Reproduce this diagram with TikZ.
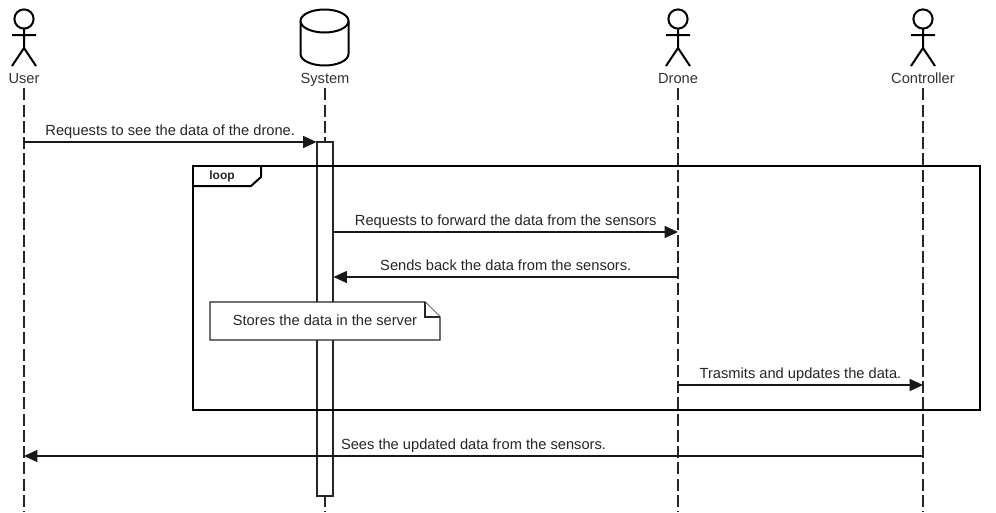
\documentclass[tikz,border=0pt]{standalone}
\usepackage{fontspec}
\setmainfont{Liberation Sans}
\usetikzlibrary{arrows.meta}

\tikzset{
	lifeline/.style = {draw=black!85, line width=0.9pt, dash pattern=on 9pt off 3.2pt},
	stickman/.style = {draw=black, line width=1.5pt},
	label/.style = {inner sep=0pt, minimum height=12pt, text height=8pt, text depth=2.2pt, font=\fontsize{11}{12}\selectfont, text=black!80},
	msg/.style = {draw=black!90, line width=0.85pt, -{Triangle[length=10pt,width=9pt]}},
	msgtext/.style = {midway, above, inner sep=0pt, yshift=2.6pt, text depth=2.2pt, font=\fontsize{11}{12}\selectfont, text=black!85},
	activation/.style = {draw=black!85, line width=0.8pt, fill=white, minimum width=12pt, minimum height=265.5pt, inner sep=0pt},
	framebox/.style = {draw=black, line width=1.5pt, minimum width=590.25pt, minimum height=183pt, inner sep=0pt},
	notebox/.style = {draw=black!85, line width=0.9pt, fill=white}
}

\begin{document}
\begin{tikzpicture}[x=0.75pt,y=-0.75pt]
	\useasboundingbox (0,0) rectangle (996,512);
	\fill[white] (0,0) rectangle (996,512);
	% actors
	\foreach \id/\lab/\x in {user/User/24,drone/Drone/678,controller/Controller/923} {
		\draw[stickman] (\x,19) circle (9.6);
		\draw[stickman] (\x,29) -- (\x,48) (\x-12,35) -- (\x+12,35) (\x-12,66) -- (\x,48) -- (\x+12,66);
		\node[label] (\id) at (\x,80) {\lab};
		\coordinate (\id-end) at (\x,512);
	}
	% database
	\draw[stickman] (300.5,21) arc[start angle=180,end angle=540,x radius=24,y radius=11.5];
	\draw[stickman] (300.5,21) -- (300.5,54) arc[start angle=180,end angle=0,x radius=24,y radius=11.5] -- (348.5,21);
	\node[label] (system) at (325,80) {System};
	\coordinate (system-end) at (325,512);
	% lifelines
	\foreach \id in {user,system,drone,controller}
		\draw[lifeline] (\id.south) -- (\id-end);
	\node[activation] (act) at (325,319) {};
	% loop frame
	\node[framebox] (loopframe) at (586.5,288) {};
	\draw[stickman] (193,186) -- (251,186) -- (261,177) -- (261,166);
	\node[font=\fontsize{9}{10}\selectfont\bfseries, text=black!85, inner sep=0pt] (looptag) at (222,176.5) {loop};
	% messages
	\coordinate (a1) at (24,142);
	\coordinate (b1) at (act.west |- a1);
	\draw[msg] (a1) -- (b1) node[msgtext] {Requests to see the data of the drone.};
	\coordinate (a2) at (act.east |- 0,232);
	\coordinate (b2) at (678,232);
	\draw[msg] (a2) -- (b2) node[msgtext] {Requests to forward the data from the sensors};
	\coordinate (a3) at (678,277);
	\coordinate (b3) at (act.east |- a3);
	\draw[msg] (a3) -- (b3) node[msgtext] {Sends back the data from the sensors.};
	\coordinate (a4) at (678,385);
	\coordinate (b4) at (923,385);
	\draw[msg] (a4) -- (b4) node[msgtext] {Trasmits and updates the data.};
	\coordinate (a5) at (923,456);
	\coordinate (b5) at (24,456);
	\draw[msg] (a5) -- (b5) node[msgtext] {Sees the updated data from the sensors.};
	% note
	\draw[notebox] (210,302) -- (425,302) -- (440,317) -- (440,340) -- (210,340) -- cycle;
	\draw[notebox] (425,302) -- (425,317) -- (440,317);
	\node[font=\fontsize{11}{12}\selectfont, text=black!85, inner sep=0pt] (storenote) at (325,320) {Stores the data in the server};
\end{tikzpicture}
\end{document}
